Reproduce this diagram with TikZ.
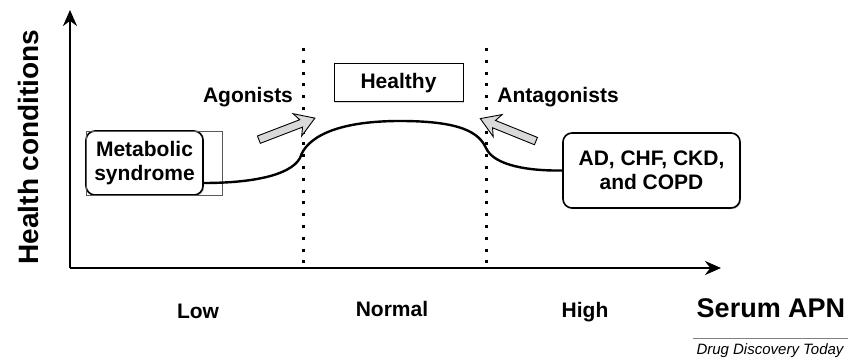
\documentclass[tikz,border=0pt]{standalone}
\usepackage{fontspec}
\setmainfont{Liberation Sans}
\usetikzlibrary{arrows.meta, positioning, shapes.arrows, shadows}

\begin{document}
\begin{tikzpicture}[
    x=1pt, y=-1pt,
    every node/.style={font=\fontsize{21}{24}\selectfont\bfseries, align=center, inner sep=0pt},
    box/.style={draw, line width=1.6pt, rounded corners=9pt, fill=white,
        drop shadow={opacity=0.35, shadow xshift=1.2pt, shadow yshift=-1.2pt}},
    axis/.style={line width=2.4pt, -{Stealth[length=16pt, width=14pt]}},
    border/.style={dash pattern=on 3pt off 8.8pt, line width=3pt},
    fat/.style={shape=single arrow, draw, line width=0.9pt, fill=gray!30,
        minimum height=60pt, inner xsep=0pt, inner ysep=3.5pt, single arrow head extend=8pt,
        single arrow head indent=4pt, single arrow tip angle=65},
    arr/.style={line width=2.4pt}
]
\useasboundingbox (0,0) rectangle (851,358);

% axes
\coordinate (origin) at (70,268);
\coordinate (ytop) at (70,10);
\coordinate (xend) at (721,268);
\draw[axis] (origin) -- (ytop);
\draw[axis] (origin) -- (xend);
\node (ylabel) [rotate=90, font=\fontsize{28}{30}\selectfont\bfseries] at (28,147) {Health conditions};

% limits of the normal range
\coordinate (lowtop) at (303,48);
\coordinate (lowbot) at (303,270);
\coordinate (hightop) at (486,48);
\coordinate (highbot) at (486,270);
\draw[border] (lowtop) -- (lowbot);
\draw[border] (hightop) -- (highbot);

\node (agon) at (248,97) {Agonists};
\node (anta) at (558,97) {Antagonists};
\node (healthy) [draw, line width=1pt, minimum width=129pt, minimum height=38pt,
    drop shadow={opacity=0.3, shadow xshift=1pt, shadow yshift=-1pt}, fill=white] at (398.5,83) {Healthy};

\node (meta) [box, minimum width=117pt, minimum height=64pt] at (144.5,163) {Metabolic\\syndrome};
\node (frame) [draw=gray!70!black, line width=0.7pt, minimum width=136pt, minimum height=64pt] at (154,163) {};
\node (ad) [box, minimum width=177pt, minimum height=75pt] at (651.5,170.5) {AD, CHF, CKD,\\and COPD};

\node (push) [fat, rotate=21] at (284,130) {};
\node (block) [fat, rotate=158] at (511,131) {};

% curve
\coordinate (mstart) at ([yshift=-20pt]meta.east);
\draw[arr] (mstart) .. controls (250,183) and (290,176) .. (300,158)
    .. controls (306,138) and (335,121) .. (400,121)
    .. controls (462,121) and (479,133) .. (486,148)
    .. controls (494,166) and (530,171) .. (ad.west);

\node (low) at (198,311) {Low};
\node (normal) at (392,309) {Normal};
\node (high) at (585,312) {High};
\node (serum) [font=\fontsize{27}{30}\selectfont\bfseries] at (771,308) {Serum APN};

\coordinate (rulel) at (693,338);
\coordinate (ruler) at (848,338);
\draw[line width=0.6pt, gray] (rulel) -- (ruler);
\node (journal) [font=\fontsize{15}{17}\selectfont\itshape] at (770,351) {Drug Discovery Today};
\end{tikzpicture}
\end{document}
